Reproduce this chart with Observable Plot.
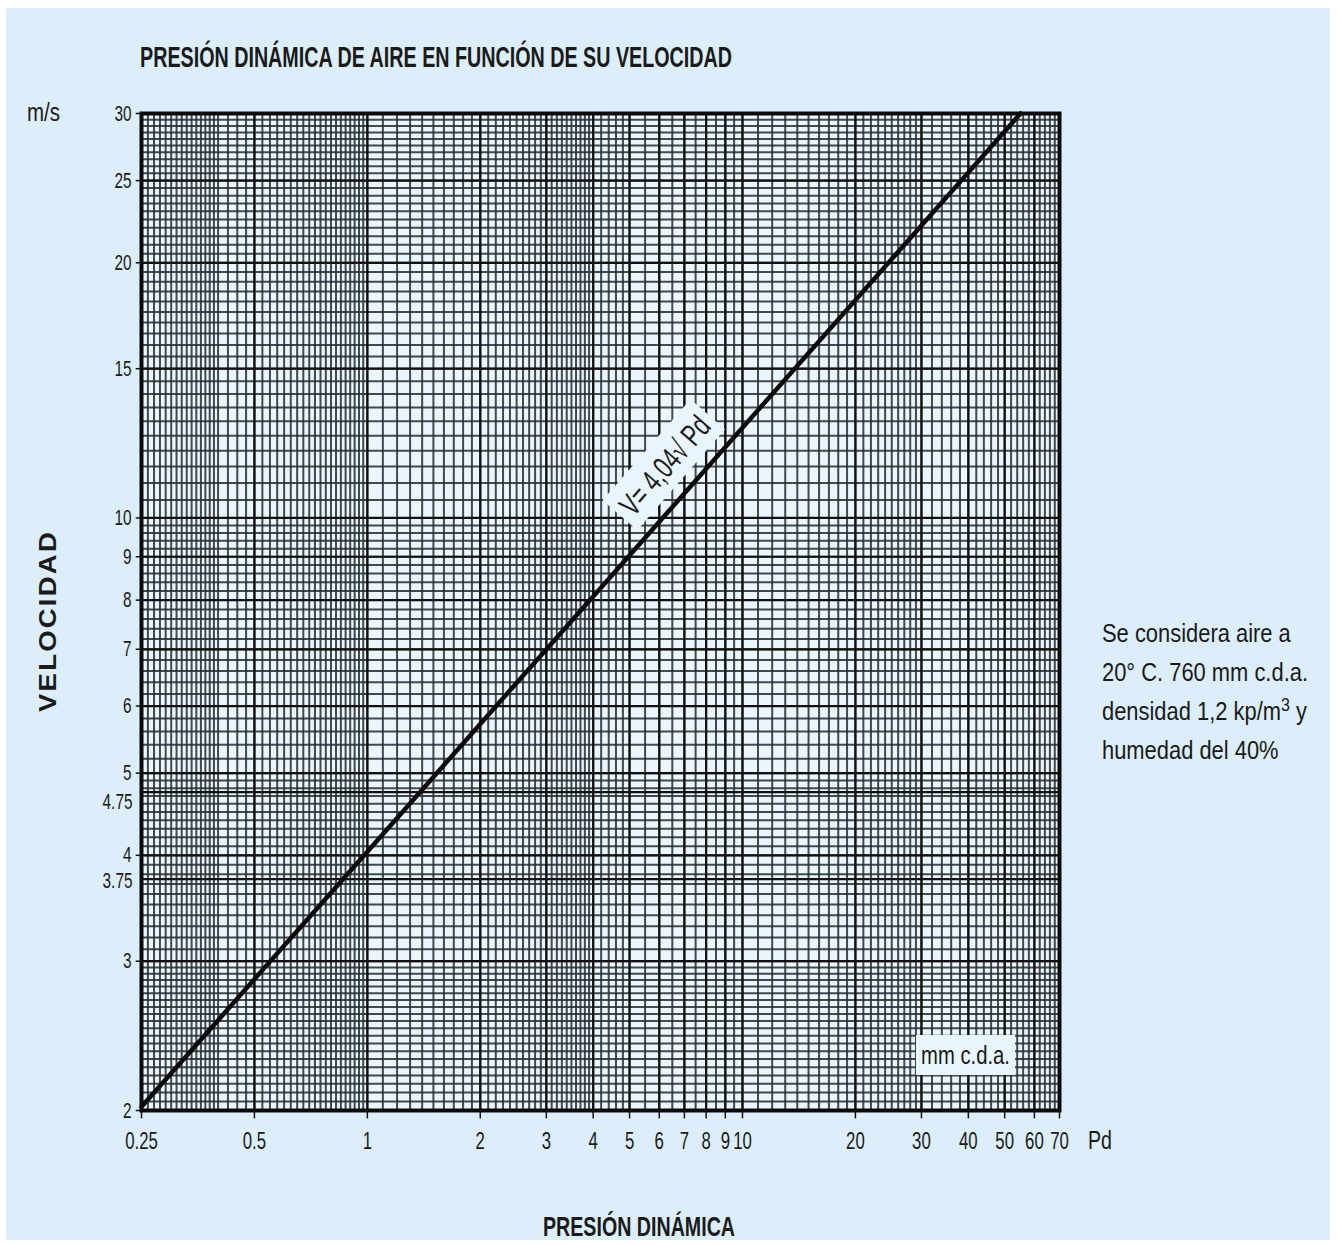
<!DOCTYPE html>
<html>
<head>
<meta charset="utf-8">
<script src="https://cdn.jsdelivr.net/npm/d3@7"></script>
<script src="https://cdn.jsdelivr.net/npm/@observablehq/plot@0.6"></script>
<style>
  body { margin: 0; background: #ffffff; }
  #page { position: relative; width: 1338px; height: 1244px; overflow: hidden; background: #fff; }
  #bg { position: absolute; left: 6px; top: 8px; width: 1324px; height: 1232px; background: #dceef9; }
  #chart { position: absolute; left: 0; top: 0; }
  .t { position: absolute; color: #1a1a1a; font-family: "Liberation Sans", Arial, sans-serif; white-space: nowrap; transform-origin: left center; }
  .b { font-weight: bold; }
</style>
</head>
<body>
<div id="page">
  <div id="bg"></div>
  <div id="chart"></div>
  <div class="t b" id="title" style="left:140px; top:40px; font-size:29px; line-height:34px;">PRESIÓN DINÁMICA DE AIRE EN FUNCIÓN DE SU VELOCIDAD</div>
  <div class="t" id="unitY" style="left:27px; top:97px; font-size:25px; line-height:30px;">m/s</div>
  <div class="t b" id="ylab" style="left:48px; top:621px; font-size:24px; transform-origin:center center; transform: translate(-50%,-50%) rotate(-90deg); letter-spacing:2px;">VELOCIDAD</div>
  <div class="t b" id="xlab" style="left:543px; top:1211px; font-size:28px; line-height:32px;">PRESIÓN DINÁMICA</div>
  <div class="t" id="pd" style="left:1088px; top:1125px; font-size:25px; line-height:30px;">Pd</div>
  <div class="t" id="note" style="left:1102px; top:614px; font-size:26px; line-height:39px;">Se considera aire a<br>20° C. 760 mm c.d.a.<br>densidad 1,2 kp/m<sup style="font-size:19px; vertical-align: 9px; line-height:0">3</sup> y<br>humedad del 40%</div>
  <div id="mmbox" style="position:absolute; left:916px; top:1035px; width:99px; height:40px; background:#e9f5fc;"></div>
  <div class="t" id="mm" style="left:921px; top:1040px; font-size:25px; line-height:30px;">mm c.d.a.</div>
</div>
<script>
// Tick labels
const xTicks = [0.25, 0.5, 1, 2, 3, 4, 5, 6, 7, 8, 9, 10, 20, 30, 40, 50, 60, 70];
const yTicks = [2, 3, 3.75, 4, 4.75, 5, 6, 7, 8, 9, 10, 15, 20, 25, 30];
const yTicksMain = [2, 3, 4, 5, 6, 7, 8, 9, 10, 15, 20, 25, 30];
const yTickUpper = [4.75];
const yTickLower = [3.75];

// Curve V = 4,04·√Pd (straight on log-log paper)
const lineP = [0.25, 1, 4, 16, 55.1];
const lineV = [2.02, 4.04, 8.08, 16.16, 30];
const formulaLabel = [{p: 6.5, v: 10.3, text: "V= 4,04√ Pd"}];

// Graph-paper grid bands: [from, to, step]
const xGridBands = [[0.25, 0.4, 0.01], [0.4, 1, 0.025], [1, 4, 0.1], [4, 5, 0.2], [5, 10, 0.5], [10, 20, 1], [20, 30, 1], [30, 70, 2]];
const yGridBands = [[2, 3, 0.05], [3, 5, 0.1], [5, 10, 0.2], [10, 30, 0.5]];

function expand(bands) {
  const out = [];
  for (const [a, b, s] of bands) {
    const n = Math.round((b - a) / s);
    for (let i = 0; i <= n; i++) out.push(+(a + i * s).toFixed(4));
  }
  return Array.from(new Set(out));
}
const xGrid = expand(xGridBands);
const yGrid = expand(yGridBands);
const curve = lineP.map((p, i) => ({p, v: lineV[i]}));

const FONT = "'Liberation Sans', Arial, sans-serif";
const chart = Plot.plot({
  width: 1338,
  height: 1244,
  marginLeft: 141,
  marginRight: 279,
  marginTop: 113,
  marginBottom: 134,
  style: {background: "transparent", fontFamily: FONT, fontSize: "24px", color: "#1a1a1a"},
  x: {type: "log", domain: [0.25, 70], axis: null},
  y: {type: "log", domain: [2, 30], axis: null},
  marks: [
    Plot.frame({fill: "#eaf5fc"}),
    Plot.ruleX(xGrid, {stroke: "#262b2f", strokeWidth: 2, strokeOpacity: 0.85}),
    Plot.ruleY(yGrid, {stroke: "#262b2f", strokeWidth: 2, strokeOpacity: 0.85}),
    Plot.ruleX(xTicks, {stroke: "#111", strokeWidth: 2.2}),
    Plot.ruleY(yTicks, {stroke: "#111", strokeWidth: 2.2}),
    Plot.text(formulaLabel, {x: "p", y: "v", text: "text", rotate: -49, dx: -7, dy: -41, fontSize: 31, fill: "#1a1a1a"}),
    Plot.line(curve, {x: "p", y: "v", stroke: "#0a0a0a", strokeWidth: 4.5}),
    Plot.frame({stroke: "#0a0a0a", strokeWidth: 4}),
    // x ticks and labels
    Plot.ruleX(xTicks, {x: d => d, y1: 2, y2: 1.955, stroke: "#111", strokeWidth: 1.5}),
    Plot.text(xTicks, {x: d => d, frameAnchor: "bottom", dy: 38, text: d => String(d), fill: "#1a1a1a"}),
    // y ticks and labels
    Plot.ruleY(yTicksMain, {y: d => d, x1: 0.25, x2: 0.242, stroke: "#111", strokeWidth: 1.5}),
    Plot.text(yTicksMain, {y: d => d, frameAnchor: "left", dx: -10, textAnchor: "end", fontSize: 22, text: d => String(d), fill: "#1a1a1a"}),
    Plot.text(yTickUpper, {y: d => d, frameAnchor: "left", dx: -9, dy: 10, textAnchor: "end", fontSize: 22, text: d => String(d), fill: "#1a1a1a"}),
    Plot.text(yTickLower, {y: d => d, frameAnchor: "left", dx: -9, dy: 2, textAnchor: "end", fontSize: 22, text: d => String(d), fill: "#1a1a1a"})
  ]
});
document.getElementById("chart").appendChild(chart);

// Condense SVG text (the original uses a condensed face)
chart.querySelectorAll("g[aria-label='text'] text").forEach(t => {
  const tr = t.getAttribute("transform") || "";
  t.setAttribute("transform", tr + " scale(0.7,1)");
});

// Light box behind the formula label
chart.querySelectorAll("g[aria-label='text'] text").forEach(t => {
  if (!t.textContent.includes("4,04")) return;
  const bb = t.getBBox();
  const r = document.createElementNS("http://www.w3.org/2000/svg", "rect");
  const padX = 10, padTop = 7, padBot = 4;
  r.setAttribute("x", bb.x - padX);
  r.setAttribute("y", bb.y - padTop);
  r.setAttribute("width", bb.width + 2 * padX);
  r.setAttribute("height", bb.height + padTop + padBot);
  r.setAttribute("transform", t.getAttribute("transform"));
  r.setAttribute("fill", "#e9f5fc");
  r.setAttribute("stroke", "none");
  t.parentNode.insertBefore(r, t);
});

// Condense HTML texts to the original widths
function fit(id, w) {
  const el = document.getElementById(id);
  const r = el.getBoundingClientRect().width;
  el.style.transform = `scaleX(${w / r})`;
}
fit("title", 592);
fit("xlab", 192);
fit("unitY", 33);
fit("pd", 24);
fit("mm", 89);
fit("note", 206);
const yl = document.getElementById("ylab");
yl.style.transform = "translate(-50%,-50%) rotate(-90deg) scaleX(" + (182 / yl.getBoundingClientRect().height) + ")";
</script>
</body>
</html>
